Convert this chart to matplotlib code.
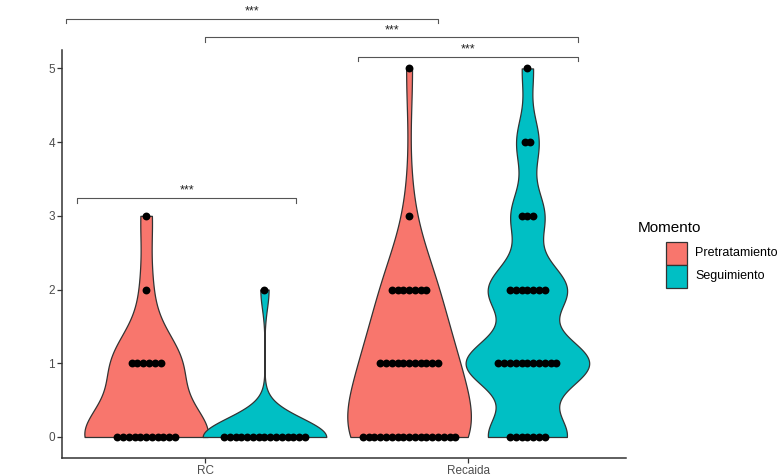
import matplotlib
matplotlib.use("Agg")
import matplotlib.pyplot as plt
from matplotlib.patches import Rectangle
import numpy as np

plt.rcParams['font.family'] = ['Liberation Sans', 'DejaVu Sans']

# counts of patients at each score (0..5)
levels = [0, 1, 2, 3, 4, 5]
groups = ['RC', 'Recaida']
momentos = ['Pretratamiento', 'Seguimiento']
counts = {
    ('RC', 'Pretratamiento'): [11, 6, 1, 1, 0, 0],
    ('RC', 'Seguimiento'): [15, 0, 1, 0, 0, 0],
    ('Recaida', 'Pretratamiento'): [17, 11, 7, 1, 0, 1],
    ('Recaida', 'Seguimiento'): [7, 11, 7, 3, 2, 1],
}
colors = {'Pretratamiento': '#F8766D', 'Seguimiento': '#00BFC4'}
# bandwidth multipliers for the density estimate
adjust = {
    ('RC', 'Pretratamiento'): 1.15,
    ('RC', 'Seguimiento'): 1.0,
    ('Recaida', 'Pretratamiento'): 1.9,
    ('Recaida', 'Seguimiento'): 1.0,
}

# significance brackets: (x from, x to, height, label)
brackets = [
    (0.47, 1.885, 5.67, '***'),
    (1.0, 2.418, 5.42, '***'),
    (1.582, 2.418, 5.16, '***'),
    (0.513, 1.346, 3.24, '***'),
]

dodge = 0.225
vwidth = 0.47
dot_step = 0.022


def nrd0(adj):
    # R's bw.nrd0, expressed as a factor of the sample sd
    def factor(kde):
        x = np.ravel(kde.dataset)
        sd = np.std(x, ddof=1)
        q75, q25 = np.percentile(x, [75, 25])
        lo = min(sd, (q75 - q25) / 1.34)
        if lo <= 0:
            lo = sd
        bw = 0.9 * lo * len(x) ** -0.2
        return adj * bw / sd
    return factor


fig = plt.figure(figsize=(7.82, 4.76), dpi=100)
ax = fig.add_axes([62 / 782, 18 / 476, 564 / 782, 408 / 476])

for gi, g in enumerate(groups):
    for mi, m in enumerate(momentos):
        data = np.repeat(levels, counts[(g, m)]).astype(float)
        pos = gi + 1 + (mi - 0.5) * 2 * dodge
        parts = ax.violinplot([data], positions=[pos], widths=vwidth,
                              showextrema=False,
                              bw_method=nrd0(adjust[(g, m)]), points=300)
        for b in parts['bodies']:
            b.set_facecolor(colors[m])
            b.set_edgecolor('#333333')
            b.set_linewidth(0.9)
            b.set_alpha(1)
            b.set_zorder(2)
        # centred rows of dots at each score
        for lv, n in zip(levels, counts[(g, m)]):
            if n == 0:
                continue
            xs = pos + (np.arange(n) - (n - 1) / 2) * dot_step
            ax.scatter(xs, np.full(n, lv), s=32, color='black', zorder=3,
                       linewidths=0)

for x0, x1, y, lab in brackets:
    ax.plot([x0, x0, x1, x1], [y - 0.06, y, y, y - 0.06], color='#555555',
            lw=0.8, clip_on=False, zorder=4)
    ax.text((x0 + x1) / 2, y + 0.02, lab, ha='center', va='bottom',
            fontsize=9, color='#222222', clip_on=False)

ax.set_xlim(0.455, 2.6)
ax.set_ylim(-0.285, 5.25)
ax.set_xticks([1, 2])
ax.set_xticklabels(groups)
ax.set_yticks(levels)
for s in ['top', 'right']:
    ax.spines[s].set_visible(False)
for s in ['left', 'bottom']:
    ax.spines[s].set_color('#333333')
    ax.spines[s].set_linewidth(1.1)
ax.tick_params(colors='#333333', labelcolor='#4D4D4D', labelsize=8.5,
               length=3.5, width=0.9, pad=1.5)

# legend
fig.text(638 / 782, 1 - 228 / 476, 'Momento', fontsize=11, va='center',
         ha='left', color='black')
for i, m in enumerate(momentos):
    top = 242 + i * 23
    fig.add_artist(Rectangle((666 / 782, 1 - (top + 23) / 476), 21 / 782,
                             23 / 476, transform=fig.transFigure,
                             facecolor=colors[m], edgecolor='#333333',
                             lw=0.9))
    fig.text(695 / 782, 1 - (top + 11.5) / 476, m, fontsize=9,
             va='center', ha='left', color='black')

fig.savefig('out.png', dpi=100)
